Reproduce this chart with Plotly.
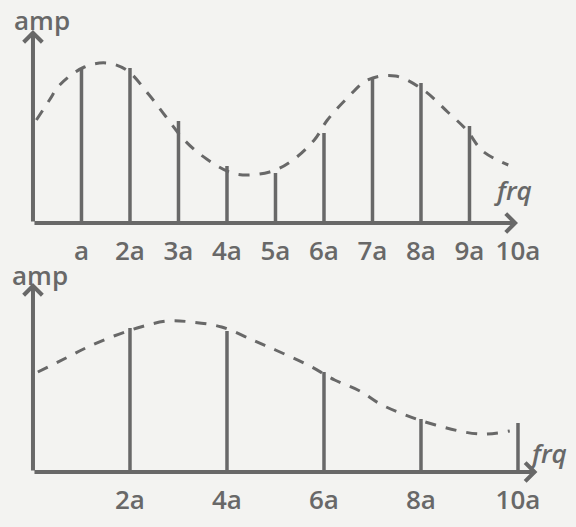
import plotly.graph_objects as go

# harmonic spectrum sketch, two panels (amplitude vs frequency)
INK = "rgb(104,104,104)"
PAPER = "rgb(243,243,241)"
FONT = "Open Sans"

# top panel: all harmonics a..9a
top_harmonics = [1, 2, 3, 4, 5, 6, 7, 8, 9]
top_amps = [7.7, 7.75, 5.1, 2.85, 2.5, 4.5, 7.2, 7.0, 4.85]
top_env_x = [0.07, 0.34, 0.55, 1.06, 1.52, 1.93, 2.38, 2.73, 3.12, 3.58, 4.18,
             4.88, 5.33, 5.80, 6.07, 6.48, 6.90, 7.47, 8.05, 8.55, 8.94, 9.27, 9.80]
top_env_y = [5.15, 6.15, 6.9, 7.8, 8.0, 7.65, 6.45, 5.35, 4.15, 3.2, 2.45,
             2.55, 3.1, 4.15, 5.15, 6.25, 7.15, 7.35, 6.65, 5.55, 4.65, 3.6, 2.9]
top_tick_pos = [1, 2, 3, 4, 5, 6, 7, 8, 9, 10]
top_tick_text = ["a", "2a", "3a", "4a", "5a", "6a", "7a", "8a", "9a", "10a"]

# bottom panel: even harmonics only
bot_harmonics = [2, 4, 6, 8, 10]
bot_amps = [7.2, 7.05, 5.0, 2.65, 2.45]
bot_env_x = [0.1, 0.68, 1.13, 1.67, 2.22, 2.77, 3.27, 3.89, 4.57, 5.0, 5.71,
             6.22, 6.74, 7.16, 7.68, 8.3, 9.2, 9.83]
bot_env_y = [5.0, 5.7, 6.25, 6.8, 7.25, 7.55, 7.5, 7.25, 6.55, 6.1, 5.3,
             4.6, 4.05, 3.4, 2.85, 2.35, 1.9, 2.05]
bot_tick_pos = [2, 4, 6, 8, 10]
bot_tick_text = ["2a", "4a", "6a", "8a", "10a"]


def stems(xs, ys):
    sx, sy = [], []
    for x, y in zip(xs, ys):
        sx += [x, x, None]
        sy += [0, y, None]
    return sx, sy


fig = go.Figure()

for (hx, hy, ex, ey, tp, tt, yref) in [
    (top_harmonics, top_amps, top_env_x, top_env_y, top_tick_pos, top_tick_text, "y"),
    (bot_harmonics, bot_amps, bot_env_x, bot_env_y, bot_tick_pos, bot_tick_text, "y2"),
]:
    sx, sy = stems(hx, hy)
    fig.add_trace(go.Scatter(x=sx, y=sy, mode="lines", yaxis=yref,
                             line=dict(color=INK, width=3.5)))
    fig.add_trace(go.Scatter(x=ex, y=ey, mode="lines", yaxis=yref,
                             line=dict(color=INK, width=3, dash="11px,10px", shape="spline")))
    fig.add_trace(go.Scatter(x=tp, y=[-1.5] * len(tp), mode="text", text=tt, yaxis=yref,
                             textfont=dict(family=FONT, size=26, color=INK, weight=600)))

# axes drawn as arrows
axis_arrows = [
    (0, 9.65, "y"), (10.0, 0, "y"),
    (0, 9.45, "y2"), (10.4, 0, "y2"),
]
for x, y, yref in axis_arrows:
    fig.add_annotation(x=x, y=y, ax=0, ay=0, xref="x", yref=yref, axref="x", ayref=yref,
                       text="", showarrow=True, arrowhead=4, arrowsize=0.9,
                       arrowwidth=4, arrowcolor=INK)

# axis names
for txt, x, y, yref, ital in [
    ("amp", 0.18, 10.15, "y", False), ("frq", 9.9, 1.65, "y", True),
    ("amp", 0.15, 9.85, "y2", False), ("frq", 10.62, 0.95, "y2", True),
]:
    fig.add_annotation(x=x, y=y, xref="x", yref=yref, text=txt, showarrow=False,
                       font=dict(family=FONT, size=26, color=INK, weight=600,
                                 style="italic" if ital else "normal"))

fig.update_layout(
    width=576, height=527,
    margin=dict(l=0, r=0, t=0, b=0),
    paper_bgcolor=PAPER, plot_bgcolor=PAPER,
    showlegend=False,
    xaxis=dict(range=[-0.68, 11.196], visible=False),
    yaxis=dict(range=[-15.2, 11.15], visible=False, domain=[0, 1]),
    yaxis2=dict(range=[-2.75, 23.6], visible=False, overlaying="y"),
)

fig.write_html("out.html", config={"displayModeBar": False},
               post_script="document.body.style.margin='0';")
